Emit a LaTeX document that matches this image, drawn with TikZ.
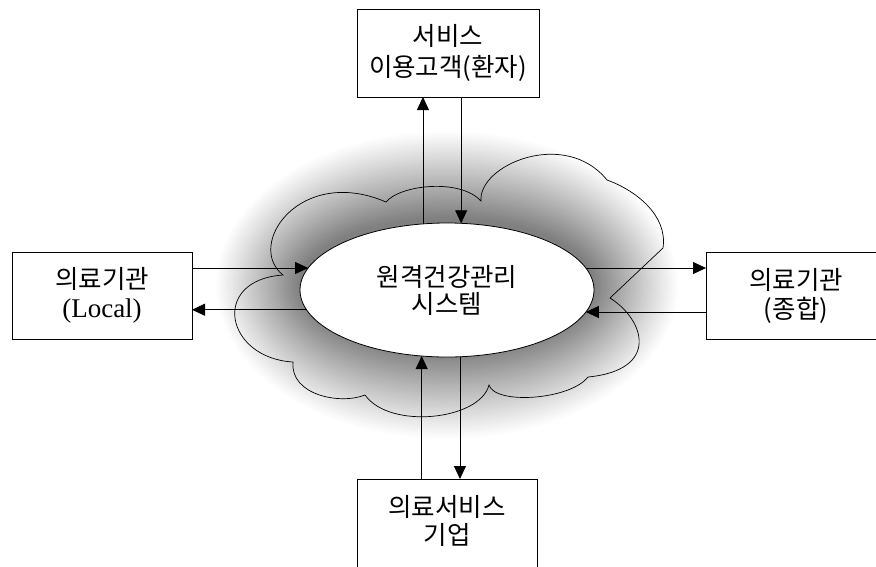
\documentclass[tikz,border=0pt]{standalone}
\usepackage{fontspec}
\setmainfont{Liberation Serif}
\newfontfamily\kr{Noto Sans CJK KR}
\usetikzlibrary{arrows.meta,shapes.geometric}
\tikzset{
  box/.style={draw, line width=0.8pt, minimum width=180pt, minimum height=87pt, inner sep=0pt, outer sep=0pt, align=center, font=\kr\fontsize{25.5}{29}\selectfont},
  plain/.style={inner sep=0pt, outer sep=0pt, align=center, font=\kr\fontsize{25.5}{28}\selectfont},
  arr/.style={line width=0.8pt, -{Triangle[length=13pt,width=12pt]}},
}
\begin{document}
\begin{tikzpicture}[x=1pt,y=-1pt]
\clip (0,0) rectangle (876,566);
\fill[white] (0,0) rectangle (876,566);
% glow
\foreach \i in {0,...,80}{
  \pgfmathsetmacro\t{1-\i/80}
  \pgfmathsetmacro\rx{147+85*\t}
  \pgfmathsetmacro\ry{67+88*\t}
  \pgfmathsetmacro\c{50*(1-\t)^1.05}
  \fill[black!\c] (447,285) ellipse [x radius=\rx, y radius=\ry];
}
% cloud outline
\draw[line width=0.7pt] (283,275) .. controls (245,245) and (300,165) .. (386,202)
 .. controls (400,185) and (460,178) .. (481,201)
 .. controls (478,165) and (565,128) .. (607,180)
 .. controls (635,190) and (668,215) .. (663,248)
 -- (610,298)
 .. controls (645,320) and (660,370) .. (588,377)
 .. controls (570,400) and (495,405) .. (489,385)
 .. controls (480,420) and (390,430) .. (365,395)
 .. controls (340,405) and (290,395) .. (293,362)
 .. controls (225,358) and (210,280) .. (283,275) -- cycle;
% central ellipse
\node[ellipse, draw, fill=white, line width=0.8pt, minimum width=294pt, minimum height=134pt, inner sep=0pt, outer sep=0pt, align=center, font=\kr\fontsize{25.5}{27}\selectfont] (e) at (447,290) {원격건강관리\\시스템};
% boxes
\node[box, minimum width=182pt, minimum height=88pt, font=\kr\fontsize{25.5}{31}\selectfont] (T) at (448,53) {서비스\\이용고객(환자)};
\node[box] (L) at (102,295.5) {의료기관\\{\rmfamily\fontsize{27}{29}\selectfont(Local)}};
\node[box] (R) at (796,295.5) {의료기관\\(종합)};
\node[box, minimum height=100pt, anchor=north] (B) at (447,479) {};
\node[plain] (Bt) at (447,521) {의료서비스\\기업};
% connectors
\draw[arr] (e.110.7) -- (e.110.7 |- T.south);
\draw[arr] (e.78.1 |- T.south) -- (e.78.1);
\draw[arr] (e.249.3 |- B.north) -- (e.249.3);
\draw[arr] (e.281.9) -- (e.281.9 |- B.north);
\draw[arr] (L.east |- e.171) -- (e.171);
\draw[arr] (e.188.1) -- (e.188.1 -| L.east);
\draw[arr] (e.9) -- (e.9 -| R.west);
\draw[arr] (R.west |- e.351.9) -- (e.351.9);
\end{tikzpicture}
\end{document}
